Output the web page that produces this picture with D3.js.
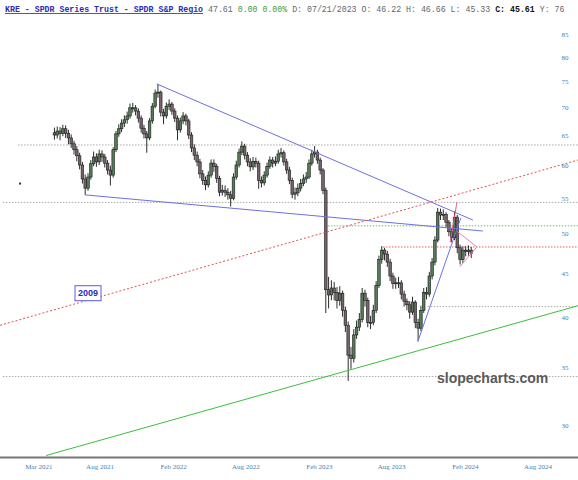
<!DOCTYPE html>
<meta charset="utf-8">
<style>

body {
  margin: 0;
  background: #fff;
}

svg {
  display: block;
}

.axis-label {
  font-family: 'Liberation Serif', serif;
  font-size: 7px;
  fill: #4a80b0;
}

.level {
  stroke-width: 1px;
  stroke-dasharray: 1.5, 1.5;
  fill: none;
}

</style>
<body>

<script src="https://cdnjs.cloudflare.com/ajax/libs/d3/7.8.5/d3.min.js"></script>
<script>

// weekly candles, first one closes on this date
var firstWeek = "2021-04-09";
var firstOpen = 65.5;

var closes = [
  65.1,65.8,65.4,66.2,65.4,64.6,63.6,62.6,61.6,60.1,
  57.9,56.5,58.2,60.3,61.4,60.6,61.9,61.4,60.4,59.3,
  58.5,62.6,65.3,66.2,67.2,67.8,68.5,70.0,70.0,69.4,
  68.1,66.3,65.3,64.6,67.6,70.3,72.8,73.0,69.2,68.5,
  70.3,70.7,69.4,68.1,66.0,67.6,68.5,67.6,65.1,62.9,
  61.7,60.6,58.7,57.7,57.0,58.5,60.4,59.9,58.0,55.9,
  56.2,55.9,55.5,55.0,58.2,60.1,62.2,63.2,61.7,60.6,
  59.8,60.7,60.4,57.7,57.3,58.5,59.9,60.9,60.4,60.7,
  61.9,62.1,60.6,59.3,57.7,55.6,55.8,56.5,57.2,57.9,
  58.2,60.4,61.9,62.2,60.9,59.3,56.2,43.1,42.5,43.3,
  42.8,41.9,42.7,40.8,39.2,36.2,35.9,38.2,39.0,39.8,
  42.7,41.9,39.5,39.5,40.8,43.6,46.7,47.9,47.4,46.4,
  44.7,43.8,43.9,43.9,42.6,41.8,41.4,40.6,41.7,39.5,
  38.9,40.8,42.8,42.6,44.7,46.4,49.2,53.0,52.6,52.7,
  51.6,50.3,49.5,52.3,48.2,46.7,47.9,47.7,47.9,47.5
];

var highs = [
  66.4,66.6,66.5,66.9,66.8,66.0,65.2,64.1,63.2,62.1,
  60.6,58.6,58.8,60.9,62.3,62.0,62.6,62.5,61.9,60.9,
  60.0,63.0,65.8,67.0,67.9,68.6,69.3,70.8,70.9,70.5,
  69.9,68.6,66.9,65.8,68.1,70.9,73.5,74.6,73.3,69.8,
  71.0,71.6,71.1,69.9,68.6,68.2,69.2,68.9,68.0,65.6,
  63.5,62.3,61.1,59.3,58.3,59.1,61.0,61.0,60.3,58.4,
  57.0,56.9,56.5,56.1,58.8,60.8,62.8,64.0,63.6,62.2,
  61.2,61.4,61.3,60.8,58.3,59.1,60.5,61.5,61.4,61.5,
  62.6,62.9,62.5,61.1,59.8,58.1,56.6,57.2,57.9,58.6,
  59.0,61.0,62.6,63.2,62.6,61.3,59.6,56.6,44.6,44.2,
  44.0,43.4,43.5,43.0,41.2,39.6,37.0,38.8,39.7,40.5,
  43.3,43.1,42.2,40.2,41.4,44.1,47.2,48.4,48.2,47.8,
  46.8,45.1,44.5,44.6,44.2,43.0,42.1,41.8,42.3,41.9,
  39.9,41.3,43.3,43.4,45.2,46.9,49.7,53.6,53.5,53.4,
  53.0,51.9,50.8,53.1,52.6,48.6,48.4,48.4,48.5,48.3
];

var lows = [
  64.3,64.5,64.2,64.9,64.6,63.5,62.9,61.8,60.7,59.4,
  57.2,55.5,56.1,57.8,59.9,59.8,60.1,60.6,59.7,58.6,
  56.9,58.1,62.2,64.8,65.6,66.5,67.1,68.0,69.1,68.6,
  67.3,65.5,64.5,62.1,64.2,67.1,69.9,71.9,68.4,67.0,
  68.0,69.6,68.7,67.4,64.2,65.5,67.0,66.8,64.4,62.2,
  60.9,59.9,58.0,57.0,56.2,56.6,58.1,59.0,57.3,55.3,
  55.4,55.2,54.8,53.8,54.7,57.8,59.7,61.7,61.0,59.9,
  59.1,59.3,59.7,56.4,56.6,56.9,58.1,59.5,59.7,59.9,
  60.3,61.3,60.0,58.7,57.1,55.0,54.8,55.3,56.0,56.8,
  57.3,57.9,60.0,61.3,60.3,58.6,55.6,40.5,41.0,41.9,
  41.9,41.0,41.3,40.1,38.5,33.8,34.9,35.5,37.8,38.6,
  39.5,41.2,39.0,38.8,39.2,40.5,43.3,46.2,46.6,45.8,
  44.1,43.2,43.2,43.3,42.0,41.2,40.8,39.9,40.3,38.9,
  37.6,38.6,40.5,42.0,42.3,44.3,46.0,48.9,51.9,51.9,
  50.9,49.7,48.9,49.2,47.5,46.1,46.3,47.1,47.2,46.9
];

var priceTicks = [30, 35, 40, 45, 50, 55, 60, 65, 70, 75, 80, 85];
var dateTicks = ["2021-03-01", "2021-08-01", "2022-02-01", "2022-08-01",
                 "2023-02-01", "2023-08-01", "2024-02-01", "2024-08-01"];
var dateLabels = ["Mar 2021", "Aug 2021", "Feb 2022", "Aug 2022",
                  "Feb 2023", "Aug 2023", "Feb 2024", "Aug 2024"];

// drawn trendlines: [start date, start price, end date, end price]
var blueLines = [
  ["2021-12-21", 74.6, "2024-02-20", 51.9],
  ["2021-06-24", 55.5, "2024-03-16", 50.4],
  ["2023-10-05", 37.5, "2024-01-21", 52.2]
];
var redTrend = ["2020-11-24", 39.2, "2024-11-09", 60.9];
var greenTrend = ["2021-03-19", 27.7, "2024-11-09", 41.3];

// horizontal levels: [price, start date]
var grayLevels = [[63.4, "2021-01-08"], [54.4, "2020-12-01"], [41.2, "2023-10-30"], [34.2, "2020-12-01"]];
var greenLevel = [51.1, "2023-02-22"];
var redLevel = [48.3, "2023-07-10"];

var pinkArc = [["2024-01-11", 54.4], ["2024-01-06", 52.6], ["2023-12-30", 50.4], ["2023-12-25", 48.9]];
var pinkWedge = [["2024-01-13", 50.3], ["2024-03-01", 48.3], ["2024-01-18", 45.8]];

var noteDate = "2021-07-02", notePrice = 42.7, noteText = "2009";
var strayDot = ["2021-01-13", 57.2];

var width = 578,
    height = 480;

var parseDate = d3.timeParse("%Y-%m-%d");

var x = d3.scaleTime()
    .domain([parseDate("2021-08-01"), parseDate("2024-08-01")])
    .range([100, 538]);

var y = d3.scaleLog()
    .domain([30, 85])
    .range([425.6, 35]);

var svg = d3.select("body").append("svg")
    .attr("width", width)
    .attr("height", height);

svg.append("defs").append("clipPath")
    .attr("id", "plot")
  .append("rect")
    .attr("x", 0)
    .attr("y", 18)
    .attr("width", width)
    .attr("height", 439);

var plot = svg.append("g").attr("clip-path", "url(#plot)");

// level lines
function level(lv, color) {
  plot.append("line")
      .attr("class", "level")
      .attr("x1", Math.max(0, x(parseDate(lv[1]))))
      .attr("x2", width)
      .attr("y1", y(lv[0]))
      .attr("y2", y(lv[0]))
      .style("stroke", color);
}
grayLevels.forEach(function(lv) { level(lv, "#aaa"); });
level(greenLevel, "#66c266");
level(redLevel, "#e85a5a");

// candles
var start = parseDate(firstWeek);
var candles = closes.map(function(c, i) {
  return {
    date: d3.timeDay.offset(start, 7 * i),
    open: i === 0 ? firstOpen : closes[i - 1],
    close: c,
    high: highs[i],
    low: lows[i]
  };
});

var candle = plot.append("g").selectAll("g")
    .data(candles)
  .enter().append("g");

candle.append("line")
    .attr("x1", function(d) { return x(d.date); })
    .attr("x2", function(d) { return x(d.date); })
    .attr("y1", function(d) { return y(d.high); })
    .attr("y2", function(d) { return y(d.low); })
    .style("stroke", "#151515")
    .style("stroke-width", 0.9);

candle.append("rect")
    .attr("x", function(d) { return x(d.date) - 1.3; })
    .attr("width", 2.6)
    .attr("y", function(d) { return y(Math.max(d.open, d.close)); })
    .attr("height", function(d) { return Math.max(1, Math.abs(y(d.open) - y(d.close))); })
    .style("fill", function(d) { return d.close >= d.open ? "#527d55" : "#75656a"; })
    .style("stroke", "#1a1a1a")
    .style("stroke-width", 0.6);

// trendlines
function seg(s, color, dash) {
  plot.append("line")
      .attr("x1", x(parseDate(s[0])))
      .attr("y1", y(s[1]))
      .attr("x2", x(parseDate(s[2])))
      .attr("y2", y(s[3]))
      .style("stroke", color)
      .style("stroke-width", 1)
      .style("stroke-dasharray", dash || null);
}
blueLines.forEach(function(s) { seg(s, "#6f6fe0"); });
seg(redTrend, "#e65050", "2,2");
seg(greenTrend, "#3cbf3c");

var pinkLine = d3.line()
    .x(function(d) { return x(parseDate(d[0])); })
    .y(function(d) { return y(d[1]); });

plot.append("path")
    .attr("d", pinkLine.curve(d3.curveBasis)(pinkArc))
    .style("fill", "none")
    .style("stroke", "#e8507a");

plot.append("path")
    .attr("d", pinkLine.curve(d3.curveLinear)(pinkWedge))
    .style("fill", "none")
    .style("stroke", "#f07ab0");

plot.append("rect")
    .attr("x", x(parseDate(strayDot[0])) - 1)
    .attr("y", y(strayDot[1]) - 1)
    .attr("width", 2)
    .attr("height", 2)
    .style("fill", "#333");

// note box
var note = svg.append("g")
    .attr("transform", "translate(" + x(parseDate(noteDate)) + "," + y(notePrice) + ")");
note.append("rect")
    .attr("x", -13)
    .attr("y", -7.5)
    .attr("width", 26)
    .attr("height", 15)
    .style("fill", "#fff")
    .style("stroke", "#5a5ae0");
note.append("text")
    .attr("text-anchor", "middle")
    .attr("dy", "0.35em")
    .style("font-family", "'Liberation Sans', sans-serif")
    .style("font-weight", "bold")
    .style("font-size", "9px")
    .style("fill", "#2a2ac8")
    .text(noteText);

// watermark
svg.append("text")
    .attr("x", 437)
    .attr("y", 383)
    .style("font-family", "'Liberation Sans', sans-serif")
    .style("font-weight", "bold")
    .style("font-size", "14px")
    .style("fill", "#5a5a5a")
    .text("slopecharts.com");

// right price labels
svg.append("g").selectAll("text")
    .data(priceTicks)
  .enter().append("text")
    .attr("class", "axis-label")
    .attr("x", 565)
    .attr("y", function(d) { return y(d); })
    .attr("dy", "0.35em")
    .attr("text-anchor", "middle")
    .text(function(d) { return d; });

// bottom axis
svg.append("line")
    .attr("x1", 0)
    .attr("x2", width)
    .attr("y1", 457.5)
    .attr("y2", 457.5)
    .style("stroke", "#777")
    .style("stroke-width", 2);

svg.append("g").selectAll("text")
    .data(dateTicks)
  .enter().append("text")
    .attr("class", "axis-label")
    .attr("x", function(d) { return x(parseDate(d)); })
    .attr("y", 469)
    .attr("text-anchor", "middle")
    .text(function(d, i) { return dateLabels[i]; });

// header
var head = svg.append("text")
    .attr("x", 5)
    .attr("y", 12)
    .style("font-family", "'Liberation Mono', monospace")
    .style("font-size", "8.25px")
    .style("fill", "#666");
head.append("tspan")
    .style("font-weight", "bold")
    .style("fill", "#2b2bb5")
    .style("text-decoration", "underline")
    .text("KRE - SPDR Series Trust - SPDR S&P Regio");
head.append("tspan").text(" 47.61 ");
head.append("tspan").style("fill", "#3c9a3c").text("0.00 0.00%");
head.append("tspan").text(" D: 07/21/2023 O: 46.22 H: 46.66 L: 45.33 ");
head.append("tspan").style("font-weight", "bold").style("fill", "#111").text("C: 45.61");
head.append("tspan").text(" Y: 76");

</script>

</body>
